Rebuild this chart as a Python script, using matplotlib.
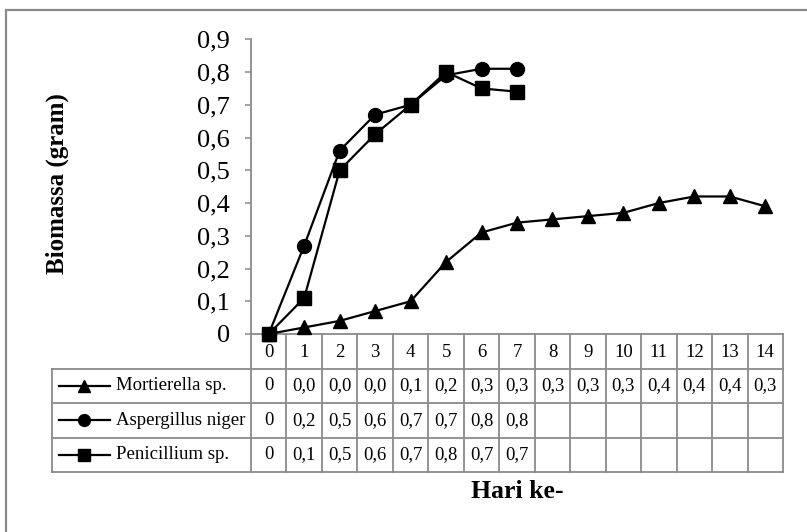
import numpy as np
import matplotlib
matplotlib.use("Agg")
import matplotlib.pyplot as plt
from matplotlib.lines import Line2D
from matplotlib.ticker import FuncFormatter, MultipleLocator

plt.rcParams['font.family'] = ['Liberation Serif', 'DejaVu Serif']

# biomass (gram) per day for each fungus
days = list(range(15))
mortierella = [0, 0.02, 0.04, 0.07, 0.10, 0.22, 0.31, 0.34, 0.35, 0.36, 0.37, 0.40, 0.42, 0.42, 0.39]
aspergillus = [0, 0.27, 0.56, 0.67, 0.70, 0.79, 0.81, 0.81]
penicillium = [0, 0.11, 0.50, 0.61, 0.70, 0.80, 0.75, 0.74]

series = [
    ("Mortierella sp.", mortierella, "^"),
    ("Aspergillus niger", aspergillus, "o"),
    ("Penicillium sp.", penicillium, "s"),
]

W, H = 807, 532
GRID = "#8a8a8a"

# layout in pixels
x_tab, x_axis, x_right = 52, 251, 783
y_top, y_zero, y_tab_bot = 39.3, 334, 472


def fx(px):
    return px / W


def fy(py):
    return (H - py) / H


def cell_text(v):
    # values in the table are cut to one decimal, comma as separator
    if v == 0:
        return "0"
    t = int(round(v * 100)) // 10
    return f"{t / 10:.1f}".replace(".", ",")


fig = plt.figure(figsize=(W / 100, H / 100), dpi=100)

# outer chart frame (right/bottom edges fall outside the canvas)
fig.patches.append(plt.Rectangle((fx(6), fy(560)), 1.2, fy(10) - fy(560),
                                 transform=fig.transFigure, fill=False,
                                 edgecolor=GRID, linewidth=1.6))

ax = fig.add_axes([fx(x_axis), fy(y_zero), fx(x_right - x_axis), fy(y_top) - fy(y_zero)])
for name, vals, mk in series:
    ax.plot(days[:len(vals)], vals, color="black", linewidth=1.6,
            marker=mk, markersize=10 if mk != "^" else 10.5, zorder=3, clip_on=False)

ax.set_xlim(-0.5, len(days) - 0.5)
ax.set_ylim(0, 0.9)
ax.yaxis.set_major_locator(MultipleLocator(0.1))
ax.yaxis.set_major_formatter(FuncFormatter(
    lambda v, _: "0" if abs(v) < 1e-9 else f"{v:.1f}".replace(".", ",")))
ax.tick_params(axis="y", length=4.5, width=1.1, color=GRID, pad=10.5, labelsize=19)
ax.set_xticks([])
for s in ("top", "right"):
    ax.spines[s].set_visible(False)
for s in ("left", "bottom"):
    ax.spines[s].set_color(GRID)
    ax.spines[s].set_linewidth(1.3)

fig.text(fx(57), fy(184), "Biomassa (gram)", rotation=90, ha="center", va="center",
         fontsize=18, fontweight="bold")
fig.text(fx(517), fy(492), "Hari ke-", ha="center", va="center",
         fontsize=18.5, fontweight="bold")

# data table below the plot, sharing the day columns
colw = (x_right - x_axis) / len(days)
x0 = -0.5 - (x_axis - x_tab) / colw
tab = fig.add_axes([fx(x_tab), fy(y_tab_bot), fx(x_right - x_tab), fy(y_zero) - fy(y_tab_bot)])
tab.set_xlim(x0, len(days) - 0.5)
tab.set_ylim(4, 0)
tab.axis("off")

lw = 1.3
# header row: only the day cells are boxed
for k in range(len(days) + 1):
    tab.plot([k - 0.5, k - 0.5], [0, 4], color=GRID, linewidth=lw, clip_on=False)
for r in range(1, 5):
    tab.plot([x0, len(days) - 0.5], [r, r], color=GRID, linewidth=lw, clip_on=False)
tab.plot([x0, x0], [1, 4], color=GRID, linewidth=lw, clip_on=False)

for d in days:
    tab.text(d, 0.55, str(d), ha="center", va="center", fontsize=13.5)

for r, (name, vals, mk) in enumerate(series, start=1):
    for d, v in enumerate(vals):
        tab.text(d, r + 0.5, cell_text(v), ha="center", va="center", fontsize=13.5)
    # legend key inside the first column
    lx0 = x0 + (59 - x_tab) / colw
    lx1 = x0 + (110 - x_tab) / colw
    tab.add_line(Line2D([lx0, lx1], [r + 0.5, r + 0.5], color="black", linewidth=1.6))
    tab.plot([(lx0 + lx1) / 2], [r + 0.5], marker=mk, color="black",
             markersize=8 if mk == "^" else 8.5, clip_on=False)
    tab.text(x0 + (116 - x_tab) / colw, r + 0.5, name, ha="left", va="center", fontsize=13.5)

fig.savefig("out.png", dpi=100)
